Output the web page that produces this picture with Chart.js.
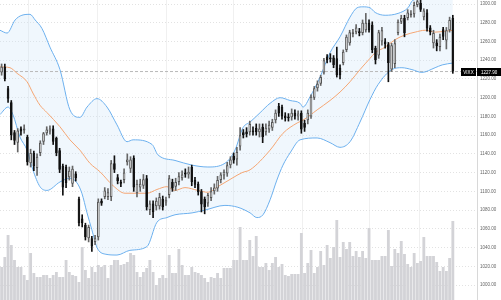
<!DOCTYPE html>
<html>
<head>
<meta charset="utf-8">
<script src="https://cdn.jsdelivr.net/npm/chart.js@4.4.0/dist/chart.umd.min.js"></script>
<style>
  html, body { margin: 0; padding: 0; background: #fff; }
</style>
</head>
<body>
<canvas id="chart" width="501" height="300"></canvas>
<script>
const symbol = 'VIXX';

// daily candles
const opens = [
  1227,1233,1210,1195,1163,1152,1167,1165,1158,1130,
  1141,1125,1141,1153,1162,1164,1167,1157,1144,1127,
  1126,1115,1108,1119,1092,1071,1064,1050,1050,1046,
  1051,1090,1094,1094,1094,1130,1115,1110,1112,1131,
  1124,1136,1098,1104,1106,1114,1080,1087,1084,1084,
  1092,1088,1096,1110,1105,1110,1114,1120,1118,1126,
  1112,1108,1100,1092,1087,1093,1100,1103,1112,1117,
  1119,1128,1138,1134,1148,1163,1164,1163,1165,1168,
  1163,1169,1163,1166,1168,1176,1191,1190,1181,1180,
  1179,1184,1180,1184,1173,1176,1180,1200,1210,1215,
  1227,1244,1243,1243,1242,1232,1237,1251,1258,1268,
  1270,1271,1269,1272,1280,1278,1253,1245,1260,1260,
  1257,1230,1236,1269,1281,1285,1285,1288,1289,1299,
  1301,1286,1291,1275,1258,1259,1254,1273,1261,1272,
  1285
];
const highs = [
  1236,1236,1212,1197,1165,1167,1169,1171,1160,1145,
  1143,1140,1154,1163,1169,1170,1170,1158,1146,1129,
  1128,1126,1127,1121,1094,1075,1066,1064,1052,1053,
  1092,1092,1104,1103,1133,1138,1118,1112,1124,1140,
  1137,1138,1112,1113,1118,1117,1090,1090,1093,1098,
  1095,1094,1117,1113,1114,1120,1122,1124,1126,1128,
  1115,1110,1102,1094,1098,1104,1108,1116,1120,1123,
  1131,1137,1141,1147,1168,1166,1168,1175,1169,1172,
  1172,1172,1172,1175,1177,1187,1194,1192,1184,1183,
  1188,1187,1186,1186,1176,1187,1203,1212,1218,1224,
  1242,1246,1247,1245,1254,1235,1251,1267,1272,1273,
  1278,1274,1283,1290,1283,1281,1255,1272,1275,1263,
  1259,1258,1262,1283,1288,1288,1294,1293,1302,1304,
  1304,1295,1294,1277,1272,1262,1268,1275,1275,1286,
  1288
];
const lows = [
  1224,1218,1195,1155,1150,1142,1160,1162,1128,1126,
  1122,1117,1138,1150,1160,1161,1150,1138,1120,1096,
  1104,1112,1105,1111,1063,1062,1048,1046,1036,1043,
  1048,1085,1092,1091,1090,1120,1108,1105,1109,1128,
  1120,1100,1094,1100,1103,1080,1075,1072,1080,1081,
  1080,1085,1093,1100,1101,1107,1112,1115,1114,1106,
  1104,1096,1078,1076,1084,1090,1097,1100,1109,1113,
  1116,1125,1130,1128,1144,1157,1158,1160,1160,1160,
  1158,1152,1160,1163,1165,1173,1180,1177,1175,1175,
  1176,1177,1176,1162,1164,1172,1178,1198,1207,1213,
  1225,1237,1238,1232,1222,1220,1235,1249,1256,1265,
  1268,1266,1267,1270,1270,1248,1236,1242,1256,1253,
  1217,1228,1232,1267,1279,1265,1283,1286,1286,1297,
  1292,1283,1271,1267,1253,1250,1250,1262,1252,1270,
  1226
];
const closes = [
  1233,1220,1199,1160,1154,1165,1164,1167,1131,1141,
  1127,1137,1152,1162,1166,1167,1153,1141,1123,1104,
  1109,1122,1124,1114,1066,1066,1051,1062,1041,1050,
  1089,1087,1101,1099,1130,1123,1111,1108,1120,1134,
  1134,1104,1108,1108,1113,1083,1087,1078,1090,1094,
  1083,1091,1114,1103,1110,1116,1118,1118,1121,1110,
  1107,1099,1086,1083,1096,1100,1104,1112,1118,1121,
  1128,1134,1133,1142,1160,1160,1161,1172,1163,1163,
  1167,1158,1168,1171,1174,1184,1183,1180,1178,1178,
  1184,1180,1183,1166,1168,1184,1201,1210,1215,1222,
  1240,1240,1241,1235,1224,1224,1249,1265,1270,1270,
  1275,1269,1280,1280,1272,1251,1240,1270,1272,1257,
  1237,1256,1258,1281,1285,1269,1291,1290,1299,1303,
  1294,1293,1274,1270,1269,1255,1265,1265,1272,1283,
  1227.9
];
// relative volume
const volumes = [
  33,43,65,55,40,33,33,25,20,47,
  27,23,23,25,25,22,25,28,23,23,
  40,28,25,24,18,53,30,22,33,28,
  35,33,35,22,35,40,40,35,36,38,
  47,45,28,23,28,32,40,28,15,22,
  25,22,45,27,27,51,35,25,25,33,
  28,27,25,22,18,23,22,27,22,32,
  32,32,40,40,73,40,40,60,44,64,
  33,33,37,30,37,43,33,36,25,24,
  26,26,26,67,27,37,50,27,33,49,
  35,55,42,53,80,43,58,51,58,44,
  49,43,49,42,72,40,40,40,44,44,
  70,34,51,47,59,46,36,33,47,37,
  39,63,44,44,44,38,29,33,29,42,
  79
];

// bollinger bands, [day, price]
const upperBand = [
  [-0.5,1272],[1.7,1269],[4.2,1283],[6.3,1288],[8.8,1289],[10.4,1283],[12.5,1274],
  [15,1254],[18.1,1230],[21.2,1187],[24.3,1179],[26.5,1190],[29.6,1199],[32.7,1190],
  [35.8,1171],[38.9,1153],[40.8,1155],[46.7,1150],[48.5,1139],[53.8,1133],[59.1,1128],
  [64,1126],[69.3,1130],[72.4,1144],[74.9,1168],[77.1,1174],[80.2,1184],[83.3,1194],
  [86.4,1200],[89.5,1197],[92.6,1194],[93.5,1190],[95.7,1201],[98.8,1222],[101.9,1248],
  [105,1265],[108.1,1286],[110.3,1296],[112.1,1297],[114.3,1296],[115.9,1291],[119,1288],
  [123,1290],[126.1,1296],[127.6,1304],[133,1307],[140,1306]
];
const middleBand = [
  [-0.5,1233],[2.6,1232],[4.8,1226],[7.9,1217],[9.7,1205],[11.9,1192],[14.1,1184],
  [18.1,1169],[21.2,1155],[24.3,1144],[27.4,1130],[30.5,1121],[34.6,1106],[38.3,1098],
  [42,1098],[45.1,1098],[48.2,1102],[51.3,1105],[53.8,1101],[56.9,1104],[60.9,1101],
  [64,1099],[67.1,1105],[71.5,1114],[74.6,1120],[77.1,1123],[83.3,1144],[87.3,1162],
  [91.7,1173],[93.5,1176],[97.9,1187],[101.9,1197],[105,1206],[108.1,1217],[111.2,1230],
  [114.3,1242],[115.9,1248],[119,1254],[122.1,1262],[125.2,1267],[128.3,1270],[131.4,1272],
  [134.5,1270],[137.6,1271],[140,1272]
];
const lowerBand = [
  [-0.5,1182],[2,1190],[3.5,1182],[5.7,1158],[7.9,1144],[9.7,1123],[11.9,1105],
  [14.1,1101],[18.1,1110],[21.2,1114],[23.4,1109],[24.9,1098],[26.5,1077],[28,1059],
  [29.6,1040],[32.1,1033],[35.8,1032],[39.8,1037],[45.1,1041],[48.2,1067],[51.3,1072],
  [53.8,1075],[59.1,1077],[63.1,1080],[69.3,1085],[73.3,1083],[77.1,1077],[79.2,1072],
  [81.1,1075],[83.3,1091],[85.4,1112],[87.3,1128],[89.5,1141],[92.6,1155],[97.9,1157],
  [101.9,1152],[105,1147],[108.1,1153],[111.2,1174],[114.3,1198],[116.8,1214],[121.1,1230],
  [124.2,1232],[127.3,1230],[130.4,1227],[134.5,1232],[136.7,1235],[140,1237]
];

const priceTicks = [1000,1020,1040,1060,1080,1100,1120,1140,1160,1180,1200,1220,1240,1260,1280,1300];
const monthStarts = [8.2, 29.6, 51.3, 71.8, 93.5, 114, 129.8];
const lastPrice = closes[closes.length - 1];

const isUp = i => closes[i] >= opens[i];
const pts = arr => arr.map(p => ({x: p[0], y: p[1]}));

// black tags for the last price on the right axis
const lastTag = {
  id: 'lastTag',
  afterDraw(chart) {
    const ctx = chart.ctx;
    const area = chart.chartArea;
    const y = Math.round(chart.scales.y.getPixelForValue(lastPrice));
    ctx.save();
    ctx.fillStyle = '#000';
    ctx.fillRect(area.right, y - 4, chart.width - area.right, 8);
    ctx.fillRect(area.right - 16, y - 4, 15, 8);
    ctx.fillStyle = '#fff';
    ctx.font = '4.5px "Liberation Sans"';
    ctx.textBaseline = 'middle';
    ctx.fillText(lastPrice.toFixed(2), area.right + 4, y + 0.5);
    ctx.textAlign = 'center';
    ctx.fillText(symbol, area.right - 8.5, y + 0.5);
    ctx.restore();
  }
};

new Chart(document.getElementById('chart'), {
  data: {
    datasets: [
      {
        type: 'line', label: 'Upper', data: pts(upperBand),
        borderColor: '#6cb0ee', borderWidth: 1, pointRadius: 0,
        cubicInterpolationMode: 'monotone', fill: false, order: 3
      },
      {
        type: 'line', label: 'Middle', data: pts(middleBand),
        borderColor: '#f5a673', borderWidth: 1, pointRadius: 0,
        cubicInterpolationMode: 'monotone', fill: false, order: 3
      },
      {
        type: 'line', label: 'Lower', data: pts(lowerBand),
        borderColor: '#6cb0ee', borderWidth: 1, pointRadius: 0,
        cubicInterpolationMode: 'monotone',
        fill: {target: 0}, backgroundColor: 'rgba(205,228,250,0.3)', order: 3
      },
      {
        type: 'line', label: 'Last', data: [{x: -0.5, y: lastPrice}, {x: 147.5, y: lastPrice}],
        borderColor: '#b8b8b8', borderWidth: 1, borderDash: [3, 2], pointRadius: 0,
        fill: false, order: 3
      },
      {
        type: 'bar', label: 'Volume', yAxisID: 'yv',
        data: volumes.map((v, i) => ({x: i, y: v})),
        backgroundColor: '#d3d3d7', barPercentage: 0.88, categoryPercentage: 1,
        grouped: false, order: 5
      },
      {
        type: 'bar', label: 'Wick',
        data: highs.map((h, i) => ({x: i, y: [lows[i], h]})),
        backgroundColor: ctx => isUp(ctx.dataIndex) ? '#666' : '#111',
        barThickness: 1, grouped: false, order: 2
      },
      {
        type: 'bar', label: 'Body',
        data: opens.map((o, i) => ({x: i, y: [o, closes[i]]})),
        backgroundColor: ctx => isUp(ctx.dataIndex) ? '#fff' : '#111',
        borderColor: ctx => isUp(ctx.dataIndex) ? '#555' : '#111',
        borderWidth: 1, borderSkipped: false, minBarLength: 1,
        barPercentage: 0.82, categoryPercentage: 1, grouped: false, order: 1
      }
    ]
  },
  options: {
    responsive: false,
    animation: false,
    devicePixelRatio: 1,
    layout: { padding: 0 },
    plugins: {
      legend: { display: false },
      tooltip: { enabled: false },
      filler: { drawTime: 'beforeDatasetsDraw' }
    },
    scales: {
      x: {
        type: 'linear', min: -0.5, max: 147.5, offset: false,
        ticks: { display: false },
        grid: { color: '#f0f0f0', drawTicks: false, offset: false },
        border: { display: false, dash: [] },
        afterBuildTicks: s => { s.ticks = monthStarts.map(v => ({value: v})); },
        afterFit: s => { s.height = 0; s.paddingLeft = 0; s.paddingRight = 0; }
      },
      y: {
        position: 'right', min: 984, max: 1304.3,
        ticks: {
          padding: 3, color: '#666',
          font: { size: 4.5, family: 'Liberation Sans' },
          callback: v => v.toFixed(2)
        },
        grid: { color: '#e2e2e2', drawTicks: false },
        border: { display: true, color: '#d8d8d8', dash: [1, 2] },
        afterBuildTicks: s => { s.ticks = priceTicks.map(v => ({value: v})); },
        afterFit: s => { s.width = 24; s.paddingTop = 0; s.paddingBottom = 0; }
      },
      yv: { display: false, min: 0, max: 300 }
    }
  },
  plugins: [lastTag]
});
</script>
</body>
</html>
